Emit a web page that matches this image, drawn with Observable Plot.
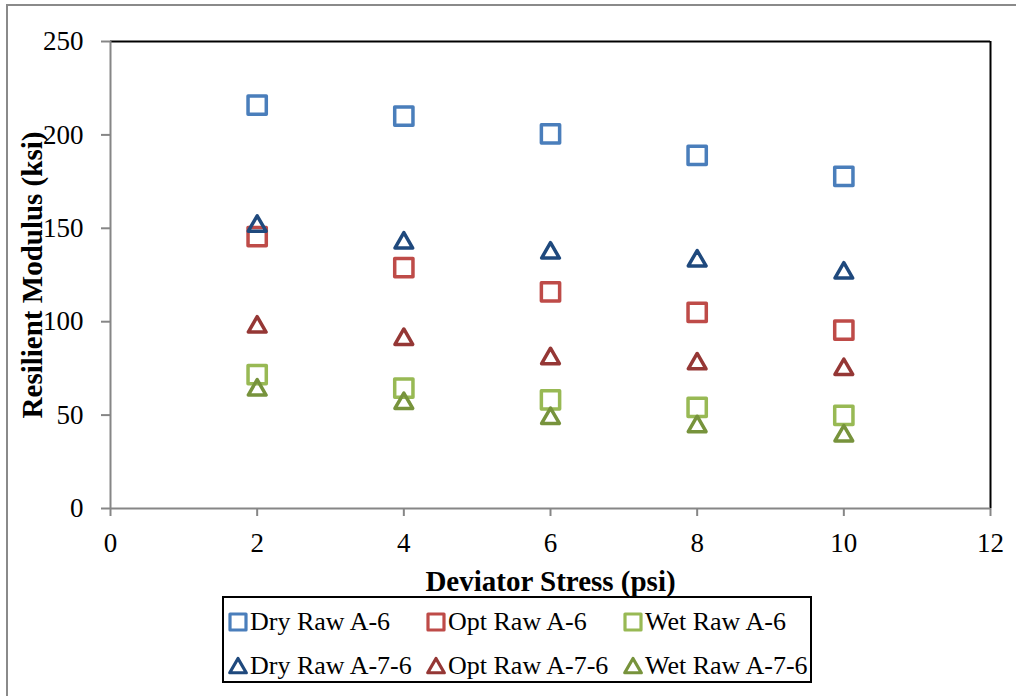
<!DOCTYPE html>
<html>
<head>
<meta charset="utf-8">
<script src="https://cdn.jsdelivr.net/npm/d3@7"></script>
<script src="https://cdn.jsdelivr.net/npm/@observablehq/plot@0.6"></script>
<style>
  html, body { margin: 0; padding: 0; background: #fff; }
  #wrap { position: relative; width: 1016px; height: 696px; overflow: hidden; background: #fff; font-family: "Liberation Serif", "Times New Roman", serif; }
  #border { position: absolute; left: 6px; top: 4px; width: 1020px; height: 720px; border: 2px solid #8a8a8a; box-sizing: border-box; pointer-events: none; }
  #chart { position: absolute; left: 0; top: 0; }
  #chart svg text { fill: #000; }
  #chart g[aria-label^="x-axis"] line, #chart g[aria-label^="y-axis"] line,
  #chart g[aria-label^="x-axis"] path, #chart g[aria-label^="y-axis"] path { stroke: #868686; stroke-width: 2px; }
  #chart g[aria-label^="x-axis"] text, #chart g[aria-label^="y-axis"] text { font-size: 27px; font-family: "Liberation Serif", serif; }
  #legend { position: absolute; left: 222px; top: 596px; width: 590px; height: 87px; border: 2px solid #000; box-sizing: border-box; }
  .item { position: absolute; display: flex; align-items: center; font-size: 26px; white-space: nowrap; line-height: 1; color: #000; }
  .item svg { display: block; margin-right: 2px; }
</style>
</head>
<body>
<div id="wrap">
  <div id="chart"></div>
  <div id="legend"></div>
  <div id="border"></div>
</div>
<script>
// ---- data ----
const stress = [2, 4, 6, 8, 10];
const dryA6  = [216.0, 210.0, 200.6, 189.0, 177.8];
const optA6  = [145.6, 129.0, 116.0, 105.0, 95.5];
const wetA6  = [71.7, 64.5, 58.2, 54.2, 49.8];
const dryA76 = [151.2, 142.2, 136.8, 132.6, 126.1];
const optA76 = [97.2, 90.6, 80.3, 77.5, 74.5];
const wetA76 = [63.5, 56.3, 48.3, 43.9, 38.9];
const seriesNames = ["Dry Raw A-6", "Opt Raw A-6", "Wet Raw A-6", "Dry Raw A-7-6", "Opt Raw A-7-6", "Wet Raw A-7-6"];
const seriesValues = [dryA6, optA6, wetA6, dryA76, optA76, wetA76];
const xTicks = [0, 2, 4, 6, 8, 10, 12];
const yTicks = [0, 50, 100, 150, 200, 250];
const xTitle = "Deviator Stress (psi)";
const yTitle = "Resilient Modulus (ksi)";

// ---- styles ----
const seriesColors = ["#4A7EBB", "#BE4B48", "#98B954", "#1F497D", "#953735", "#77933C"];
const seriesSymbols = ["square", "square", "square", "triangle", "triangle", "triangle"];

const xDomain = [d3.min(xTicks), d3.max(xTicks)];
const yDomain = [d3.min(yTicks), d3.max(yTicks)];

const rows = seriesNames.map((name, i) => stress.map((s, j) => ({series: name, x: s, y: seriesValues[i][j]})));

const dotMarks = seriesNames.map((name, i) => Plot.dot(rows[i], {
  x: "x", y: "y",
  symbol: seriesSymbols[i],
  stroke: seriesColors[i],
  fill: "none",
  r: seriesSymbols[i] === "square" ? 10.3 : 6.6,
  strokeWidth: 3.5,
  strokeLinejoin: "round"
}));

const plot = Plot.plot({
  width: 1016,
  height: 600,
  marginLeft: 110,
  marginRight: 26,
  marginTop: 41,
  marginBottom: 92,
  style: {fontFamily: "Liberation Serif, serif", fontSize: "27px", color: "#000", background: "transparent", overflow: "visible"},
  x: {domain: xDomain, ticks: xTicks, tickSize: 8, tickPadding: 16, label: null, tickFormat: d => String(d)},
  y: {domain: yDomain, ticks: yTicks, tickSize: 9, tickPadding: 18, label: null, tickFormat: d => String(d)},
  marks: [
    Plot.ruleY([yDomain[1]], {stroke: "#000", strokeWidth: 2}),
    Plot.ruleX([xDomain[1]], {stroke: "#000", strokeWidth: 2}),
    Plot.ruleY([yDomain[0]], {stroke: "#868686", strokeWidth: 2}),
    Plot.ruleX([xDomain[0]], {stroke: "#868686", strokeWidth: 2}),
    ...dotMarks,
    Plot.text([xTitle], {frameAnchor: "bottom", dy: 82, text: d => d, textAnchor: "middle", fontWeight: "bold", fontSize: 29, fill: "#000"}),
    Plot.text([yTitle], {frameAnchor: "left", dx: -78, rotate: -90, text: d => d, textAnchor: "middle", fontWeight: "bold", fontSize: 29, fill: "#000"})
  ]
});
document.getElementById("chart").appendChild(plot);

// ---- legend ----
const legend = document.getElementById("legend");
const colLeft = [4, 202, 399];
const rowTop = [11, 55];
seriesNames.forEach((name, i) => {
  const item = document.createElement("div");
  item.className = "item";
  item.style.left = colLeft[i % 3] + "px";
  item.style.top = rowTop[Math.floor(i / 3)] + "px";
  const svg = d3.create("svg").attr("width", 20).attr("height", 22);
  const isSq = seriesSymbols[i] === "square";
  const sym = d3.symbol(isSq ? d3.symbolSquare : d3.symbolTriangle, isSq ? 256 : 118)();
  svg.append("path").attr("d", sym).attr("transform", isSq ? "translate(10,11)" : "translate(10,13)")
    .attr("fill", "none").attr("stroke", seriesColors[i]).attr("stroke-width", 3.2).attr("stroke-linejoin", "round");
  item.appendChild(svg.node());
  const span = document.createElement("span");
  span.textContent = name;
  item.appendChild(span);
  legend.appendChild(item);
});
</script>
</body>
</html>
